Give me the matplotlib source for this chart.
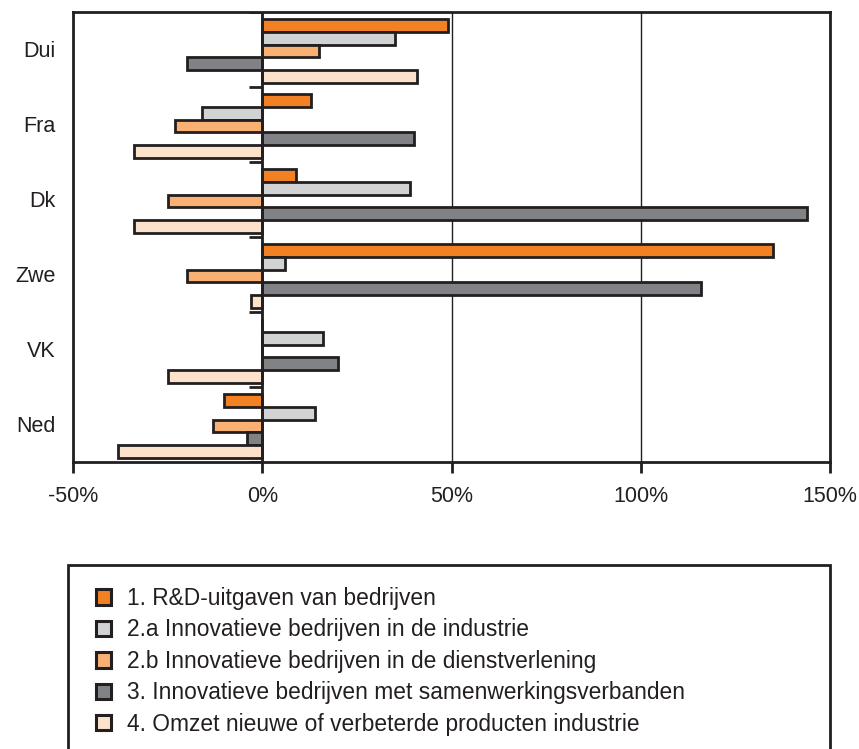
import matplotlib
matplotlib.use("Agg")
import matplotlib.pyplot as plt
import matplotlib.patches as mpatches
import numpy as np

# landen, van boven naar beneden
countries = ["Dui", "Fra", "Dk", "Zwe", "VK", "Ned"]

series_labels = [
    "1. R&D-uitgaven van bedrijven",
    "2.a Innovatieve bedrijven in de industrie",
    "2.b Innovatieve bedrijven in de dienstverlening",
    "3. Innovatieve bedrijven met samenwerkingsverbanden",
    "4. Omzet nieuwe of verbeterde producten industrie",
]

rd_uitgaven = [49, 13, 9, 135, 0, -10]
innov_industrie = [35, -16, 39, 6, 16, 14]
innov_diensten = [15, -23, -25, -20, 0, -13]
samenwerking = [-20, 40, 144, 116, 20, -4]
omzet_nieuw = [41, -34, -34, -3, -25, -38]

xticks = [-50, 0, 50, 100, 150]
xticklabels = ["-50%", "0%", "50%", "100%", "150%"]

series = [rd_uitgaven, innov_industrie, innov_diensten, samenwerking, omzet_nieuw]
colors = ["#F28123", "#D1D2D4", "#F9B073", "#808285", "#FDE2CB"]
EDGE = "#231F20"
TXT = "#231F20"
FONT = ["Liberation Sans", "DejaVu Sans"]

plt.rcParams["font.family"] = FONT

fig = plt.figure(figsize=(8.59, 7.49), dpi=100)
ax = fig.add_axes([0.085, 0.3832, 0.8813, 0.6008])

y = np.arange(len(countries))
bh = 0.17
for i, (vals, col) in enumerate(zip(series, colors)):
    ax.barh(y + (i - 2) * bh + 0.02, vals, height=bh, color=col,
            edgecolor=EDGE, linewidth=2, zorder=3)

ax.set_xlim(-50, 150)
ax.set_ylim(len(countries) - 0.5, -0.5)

ax.set_xticks(xticks)
ax.set_xticklabels(xticklabels, fontsize=15.5, color=TXT)
ax.tick_params(axis="x", direction="out", length=8, width=2, color=EDGE, pad=9)
ax.xaxis.grid(True, color=EDGE, linewidth=1)
ax.set_axisbelow(True)

ax.set_yticks(y)
ax.set_yticklabels(countries, fontsize=15.5, color=TXT)
ax.tick_params(axis="y", length=0, pad=12.5)

for s in ax.spines.values():
    s.set_linewidth(2)
    s.set_color(EDGE)

# nullijn met scheidingsstreepjes tussen de landen
ax.axvline(0, color=EDGE, linewidth=2, zorder=4)
ax.hlines(np.arange(len(countries) + 1) - 0.5, -3.4, 0, color=EDGE,
          linewidth=2, zorder=4)

# legenda in een kader onder de grafiek
fig.patches.append(mpatches.Rectangle((68 / 859, -0.05), (830 - 68) / 859,
                                      1 - 565 / 749 + 0.05, transform=fig.transFigure,
                                      fill=False, edgecolor=EDGE, linewidth=2))
handles = [mpatches.Patch(facecolor=c, edgecolor=EDGE, linewidth=2.2) for c in colors]
leg = fig.legend(handles, series_labels, loc="upper left",
                 bbox_to_anchor=(96 / 859, 1 - 587 / 749), frameon=False,
                 prop={"size": 16.4}, handlelength=0.66,
                 handleheight=0.66, handletextpad=0.7, labelspacing=0.37,
                 borderpad=0, borderaxespad=0)
for t in leg.get_texts():
    t.set_color(TXT)

fig.savefig("out.png", dpi=100)
